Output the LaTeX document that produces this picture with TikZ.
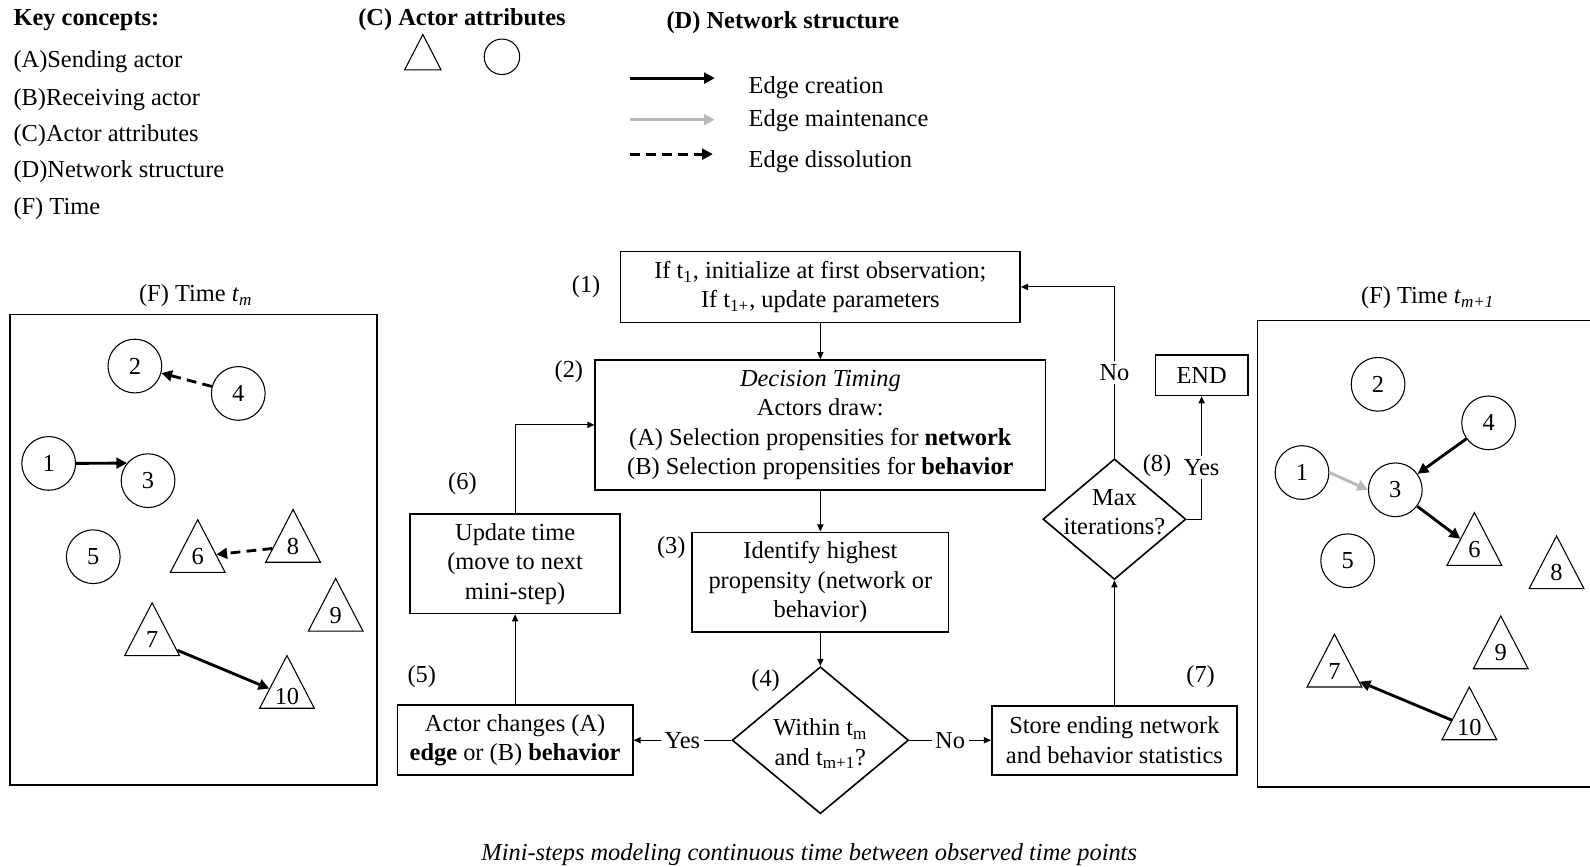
\documentclass[tikz,border=0pt]{standalone}
\usepackage{fontspec}
\setmainfont{Liberation Serif}
\usetikzlibrary{arrows.meta,shapes.geometric}

\begin{document}
\begin{tikzpicture}[x=0.02cm, y=-0.02cm,
  font=\fontsize{13.7}{16.5}\selectfont,
  keytext/.style={anchor=west, inner sep=0pt},
  actor/.style={circle, draw, line width=0.6pt, minimum size=1.06cm, inner sep=0pt},
  attr/.style={isosceles triangle, isosceles triangle apex angle=55, shape border rotate=90,
    isosceles triangle stretches, draw, line width=0.6pt, minimum width=1.08cm, minimum height=1.04cm, inner sep=0pt},
  stepbox/.style={rectangle, draw, line width=0.9pt, align=center, inner sep=2pt},
  decision/.style={diamond, draw, line width=0.9pt, align=center, inner sep=0pt},
  panel/.style={line width=0.9pt},
  flow/.style={-{Triangle[length=4pt,width=3.5pt]}, line width=0.55pt},
  create/.style={-{Triangle[length=6pt,width=6pt]}, line width=1.6pt},
  keep/.style={create, gray!55},
  dissolve/.style={create, dash pattern=on 5.5pt off 3.5pt},
  tag/.style={inner sep=0pt}]
\useasboundingbox (0,0) rectangle (1568,855);

% key concepts
\node[keytext] (keyhead) at (13,20) {\textbf{Key concepts:}};
\node[keytext] (keyA) at (13,61) {(A)Sending actor};
\node[keytext] (keyB) at (13,98) {(B)Receiving actor};
\node[keytext] (keyC) at (13,134) {(C)Actor attributes};
\node[keytext] (keyD) at (13,169) {(D)Network structure};
\node[keytext] (keyF) at (13,206) {(F) Time};

% actor attributes
\node[keytext] (attrhead) at (353,19) {\textbf{(C) Actor attributes}};
\node[attr, minimum width=0.72cm, minimum height=0.70cm] (attrtri) at (417,58) {};
\node[actor, minimum size=0.70cm] (attrcirc) at (495,56) {};

% network structure
\node[keytext] (nethead) at (657,22) {\textbf{(D) Network structure}};
\coordinate (cs) at (621,77);  \coordinate (ce) at (705,77);
\coordinate (ms) at (621,118); \coordinate (me) at (705,118);
\coordinate (ds) at (621,152); \coordinate (de) at (703,152);
\draw[create] (cs) -- (ce);
\draw[keep] (ms) -- (me);
\draw[dissolve] (ds) -- (de);
\node[keytext] (creation) at (738,86) {Edge creation};
\node[keytext] (maintenance) at (738,119) {Edge maintenance};
\node[keytext] (dissolution) at (738,159) {Edge dissolution};

% time t_m
\node (tmhead) at (193,292) {(F) Time \textit{t}\textsubscript{\textit{m}}};
\draw[panel] (10,310) rectangle (372,774);
\node[actor] (a1) at (48,457) {1};
\node[actor] (a2) at (133,361) {2};
\node[actor] (a3) at (146,474) {3};
\node[actor] (a4) at (235,388) {4};
\node[actor] (a5) at (92,549) {5};
\node[attr, anchor=south] (a6) at (195,565) {6};
\node[attr, anchor=south] (a7) at (150,647) {7};
\node[attr, anchor=south] (a8) at (289,555) {8};
\node[attr, anchor=south] (a9) at (331,623) {9};
\node[attr, anchor=south] (a10) at (283,699) {10};
\draw[create] (a1.east) -- (a3.140);
\draw[dissolve] (a4) -- (a2);
\draw[dissolve] (a8) -- (a6);
\draw[create] (a7) -- (a10);

% time t_m+1
\node (tnhead) at (1408,294) {(F) Time \textit{t}\textsubscript{\textit{m+1}}};
\draw[panel] (1575,316) -| (1240,776) -- (1575,776);
\node[actor] (b1) at (1284,466) {1};
\node[actor] (b2) at (1359,379) {2};
\node[actor] (b3) at (1376,483) {3};
\node[actor] (b4) at (1468,417) {4};
\node[actor] (b5) at (1329,553) {5};
\node[attr, anchor=south] (b6) at (1454,558) {6};
\node[attr, anchor=south] (b7) at (1316,678) {7};
\node[attr, anchor=south] (b8) at (1535,581) {8};
\node[attr, anchor=south] (b9) at (1480,660) {9};
\node[attr, anchor=south] (b10) at (1449,730) {10};
\draw[keep] (b1.east) -- (b3.west);
\draw[create] (b4) -- (b3);
\draw[create] (b3) -- (b6);
\draw[create] (b10) -- (b7);

% mini-step flow chart
\node[stepbox, minimum width=7.88cm, minimum height=1.40cm] (init) at (809,283)
  {If t\textsubscript{1}, initialize at first observation;\\ If t\textsubscript{1+}, update parameters};
\node[stepbox, minimum width=8.88cm, minimum height=2.56cm] (timing) at (809,419)
  {\textit{Decision Timing}\\ Actors draw:\\ (A) Selection propensities for \textbf{network}\\ (B) Selection propensities for \textbf{behavior}};
\node[stepbox, minimum width=5.06cm, minimum height=1.96cm] (highest) at (809,574)
  {Identify highest\\ propensity (network or\\ behavior)};
\node[decision, minimum width=3.48cm, minimum height=2.90cm,
  label={[align=center, yshift=-2pt]center:Within t\textsubscript{m}\\ and t\textsubscript{m+1}?}] (within) at (809,730) {};
\node[stepbox, minimum width=4.64cm, minimum height=1.38cm] (change) at (508,730)
  {Actor changes (A)\\ \textbf{edge} or (B) \textbf{behavior}};
\node[stepbox, minimum width=4.14cm, minimum height=1.96cm] (update) at (508,556)
  {Update time\\ (move to next\\ mini-step)};
\node[stepbox, minimum width=4.84cm, minimum height=1.36cm] (store) at (1099,730)
  {Store ending network\\ and behavior statistics};
\node[decision, minimum width=2.82cm, minimum height=2.38cm,
  label={[align=center, yshift=4pt]center:Max\\ iterations?}] (maxit) at (1099,512) {};
\node[stepbox, minimum width=1.82cm, minimum height=0.80cm] (end) at (1185,370) {END};

\node[tag] (s1) at (578,283) {(1)};
\node[tag] (s2) at (561,366) {(2)};
\node[tag] (s3) at (662,540) {(3)};
\node[tag] (s4) at (755,671) {(4)};
\node[tag] (s5) at (416,667) {(5)};
\node[tag] (s6) at (456,477) {(6)};
\node[tag] (s7) at (1184,667) {(7)};
\node[tag] (s8) at (1141,459) {(8)};

\draw[flow] (init) -- (timing);
\draw[flow] (timing) -- (highest);
\draw[flow] (highest) -- (within);
\draw[flow] (within) -- node[fill=white, inner sep=2pt] {Yes} (change);
\draw[flow] (within) -- node[fill=white, inner sep=2pt] {No} (store);
\draw[flow] (change) -- (update);
\draw[flow] (update.north) |- (timing.west);
\draw[flow] (store) -- (maxit);
\draw[flow] (maxit.north) -- node[fill=white, inner sep=2pt] {No} (maxit.north |- init.east) -- (init.east);
\draw[flow] (maxit.east) -| node[pos=0.71, fill=white, inner sep=2pt] {Yes} (end.south);

\node (caption) at (798,843) {\textit{Mini-steps modeling continuous time between observed time points}};
\end{tikzpicture}
\end{document}
